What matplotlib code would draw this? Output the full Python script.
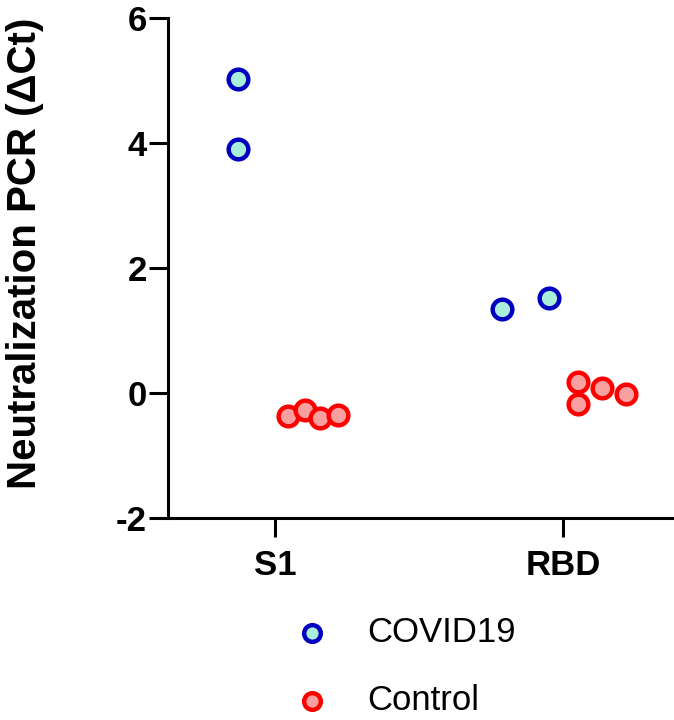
import numpy as np
import matplotlib.pyplot as plt

# data
categories = ['S1', 'RBD']
covid_x = [-0.128, 0.788, 0.951]
covid_y = [5.03, 1.34, 1.52]
covid_x2 = [-0.128]
covid_y2 = [3.90]
control_x = [0.045, 0.104, 0.156, 0.219, 1.052, 1.052, 1.135, 1.219]
control_y = [-0.37, -0.27, -0.40, -0.35, 0.18, -0.17, 0.08, -0.02]

plt.rcParams['font.family'] = ['Liberation Sans', 'DejaVu Sans']
plt.rcParams['axes.unicode_minus'] = False

fig = plt.figure(figsize=(6.74, 7.2), dpi=100)
ax = fig.add_axes([0.249, 0.2806, 0.7495, 0.6944])

cv_face, cv_edge = '#a8eed8', '#0000c0'
ct_face, ct_edge = '#f8a0a0', '#ff0000'

ax.scatter(covid_x + covid_x2, covid_y + covid_y2, s=200, facecolor=cv_face,
           edgecolor=cv_edge, linewidth=3.2, zorder=3, label='COVID19')
ax.scatter(control_x, control_y, s=200, facecolor=ct_face,
           edgecolor=ct_edge, linewidth=3.2, zorder=3, label='Control')

ax.set_xlim(-0.372, 1.382)
ax.set_ylim(-2, 6)
ax.set_yticks([-2, 0, 2, 4, 6])
ax.set_xticks([0, 1])
ax.set_xticklabels(categories)
for lab in ax.get_xticklabels() + ax.get_yticklabels():
    lab.set_fontweight('bold')
    lab.set_fontsize(25)
ax.tick_params(axis='both', width=2.2, length=14, direction='out')
ax.tick_params(axis='x', pad=8)
ax.tick_params(axis='y', pad=1)
ax.spines['top'].set_visible(False)
ax.spines['right'].set_visible(False)
ax.spines['left'].set_linewidth(2.2)
ax.spines['bottom'].set_linewidth(2.2)
ax.set_ylabel('Neutralization PCR (\u0394Ct)', fontsize=29, fontweight='bold', labelpad=52)
ax.yaxis.label.set_y(0.53)

fig.legend(loc='upper left', bbox_to_anchor=(0.385, 0.168), frameon=False,
           fontsize=25, handletextpad=0.6, labelspacing=1.0, markerscale=0.85,
           borderpad=0)

fig.savefig('out.png', dpi=100)
